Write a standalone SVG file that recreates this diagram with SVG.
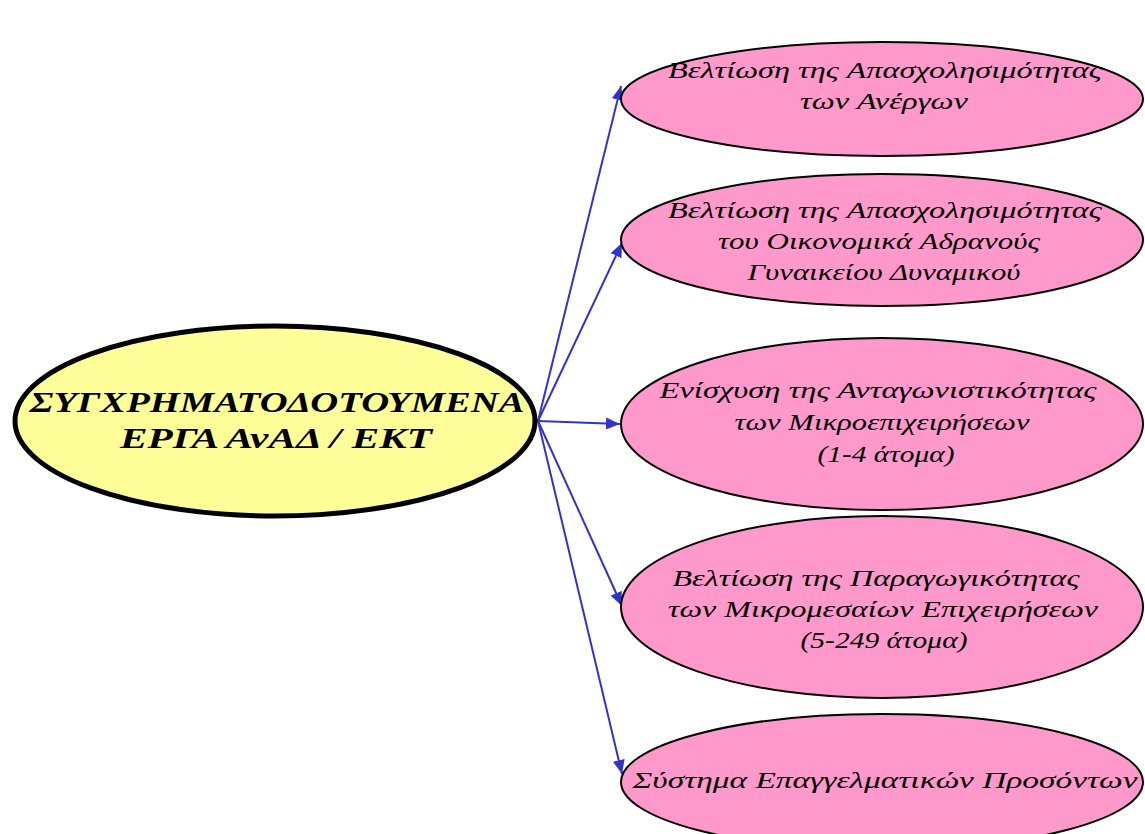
<svg xmlns="http://www.w3.org/2000/svg" width="1145" height="834" viewBox="0 0 1145 834">
<style>
.leaf{fill:#FF99CC;stroke:#000;stroke-width:2}
.root{fill:#FFFF99;stroke:#000;stroke-width:5}
.t{font-family:"Liberation Serif","DejaVu Serif",serif;font-style:italic;font-size:23px;fill:#000;text-anchor:middle}
.rt{font-family:"Liberation Serif","DejaVu Serif",serif;font-style:italic;font-weight:bold;font-size:29px;fill:#000;text-anchor:middle}
.c{stroke:#3333CC;stroke-width:2;fill:none;marker-end:url(#ah)}
</style>
<defs>
<marker id="ah" viewBox="0 0 14 12" refX="14" refY="6" markerWidth="14" markerHeight="12" markerUnits="userSpaceOnUse" orient="auto">
<path d="M0,0 L14,6 L0,12 Z" fill="#3333CC"/>
</marker>
</defs>
<rect width="1145" height="834" fill="#fff"/>
<g id="connectors">
<line class="c" x1="538" y1="421" x2="621" y2="86"/>
<line class="c" x1="538" y1="421" x2="622" y2="243"/>
<line class="c" x1="538" y1="421" x2="620" y2="424"/>
<line class="c" x1="538" y1="421" x2="622" y2="606"/>
<line class="c" x1="538" y1="421" x2="622" y2="774"/>
</g>
<g id="root">
<ellipse class="root" cx="275" cy="421" rx="260" ry="95"/>
<text class="rt" x="277" y="412" textLength="495" lengthAdjust="spacingAndGlyphs">ΣΥΓΧΡΗΜΑΤΟΔΟΤΟΥΜΕΝΑ</text>
<text class="rt" x="276" y="448" textLength="312" lengthAdjust="spacingAndGlyphs">ΕΡΓΑ ΑνΑΔ / ΕΚΤ</text>
</g>
<g id="n1">
<ellipse class="leaf" cx="882" cy="99" rx="261" ry="57"/>
<text class="t" x="885" y="78" textLength="434" lengthAdjust="spacingAndGlyphs">Βελτίωση της Απασχολησιμότητας</text>
<text class="t" x="884" y="109" textLength="168" lengthAdjust="spacingAndGlyphs">των Ανέργων</text>
</g>
<g id="n2">
<ellipse class="leaf" cx="882" cy="240" rx="261" ry="66"/>
<text class="t" x="885" y="218" textLength="434" lengthAdjust="spacingAndGlyphs">Βελτίωση της Απασχολησιμότητας</text>
<text class="t" x="879" y="249" textLength="322" lengthAdjust="spacingAndGlyphs">του Οικονομικά  Αδρανούς</text>
<text class="t" x="884" y="280" textLength="273" lengthAdjust="spacingAndGlyphs">Γυναικείου  Δυναμικού</text>
</g>
<g id="n3">
<ellipse class="leaf" cx="882" cy="424" rx="261" ry="86"/>
<text class="t" x="878" y="398" textLength="437" lengthAdjust="spacingAndGlyphs">Ενίσχυση της Ανταγωνιστικότητας</text>
<text class="t" x="882" y="430" textLength="295" lengthAdjust="spacingAndGlyphs">των Μικροεπιχειρήσεων</text>
<text class="t" x="886" y="462" textLength="137" lengthAdjust="spacingAndGlyphs">(1-4 άτομα)</text>
</g>
<g id="n4">
<ellipse class="leaf" cx="882" cy="607" rx="261" ry="91"/>
<text class="t" x="876" y="586" textLength="407" lengthAdjust="spacingAndGlyphs">Βελτίωση της Παραγωγικότητας</text>
<text class="t" x="883" y="617" textLength="430" lengthAdjust="spacingAndGlyphs">των Μικρομεσαίων  Επιχειρήσεων</text>
<text class="t" x="884" y="648" textLength="167" lengthAdjust="spacingAndGlyphs">(5-249 άτομα)</text>
</g>
<g id="n5">
<ellipse class="leaf" cx="882" cy="782" rx="261" ry="68"/>
<text class="t" x="885" y="788" textLength="505" lengthAdjust="spacingAndGlyphs">Σύστημα Επαγγελματικών  Προσόντων</text>
</g>
</svg>
